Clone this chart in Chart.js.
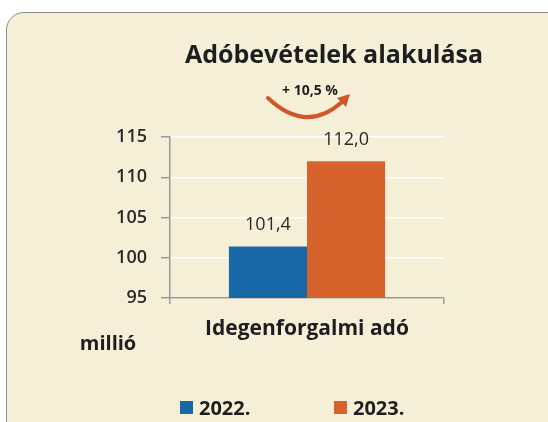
<!DOCTYPE html>
<html>
<head>
<meta charset="utf-8">
<script src="https://cdn.jsdelivr.net/npm/chart.js@4.4.0/dist/chart.umd.min.js"></script>
<style>
    body { margin: 0; background: #ffffff; width: 548px; height: 422px; overflow: hidden; position: relative; }
    #panel {
        position: absolute; left: 6px; top: 12px; width: 600px; height: 460px;
        background: #f6efd8; border: 1.5px solid #8c8c8c; border-radius: 18px;
    }
    #chartBox { position: absolute; left: 0; top: 0; width: 548px; height: 422px; }
</style>
</head>
<body>
<div id="panel"></div>
<div id="chartBox"><canvas id="taxChart" width="548" height="422"></canvas></div>
<script>
// Chart data
const categories = ['Idegenforgalmi adó'];
const years = ['2022.', '2023.'];
const values2022 = [101.4];
const values2023 = [112.0];
const yMin = 95;
const yMax = 115;
const yStep = 5;
const chartTitle = 'Adóbevételek alakulása';
const changeLabel = '+ 10,5 %';
const unitLabel = 'millió';

const colors = ['#1867a9', '#d6622c'];
const FONT = "'Open Sans', sans-serif";

function fmt(v) {
    return v.toFixed(1).replace('.', ',');
}

// Title, growth arrow, unit, value labels and legend
const extrasPlugin = {
    id: 'extras',
    afterDatasetsDraw(chart) {
        const ctx = chart.ctx;
        ctx.save();
        ctx.fillStyle = '#1e1e1e';
        ctx.textAlign = 'center';
        ctx.textBaseline = 'alphabetic';

        ctx.font = `bold 25px ${FONT}`;
        ctx.fillText(chartTitle, 334, 63);

        ctx.font = `bold 14px ${FONT}`;
        ctx.fillText(changeLabel, 310, 95);

        // curved arrow
        ctx.strokeStyle = '#cf572a';
        ctx.fillStyle = '#cf572a';
        ctx.lineWidth = 4;
        ctx.lineCap = 'round';
        ctx.beginPath();
        ctx.moveTo(268, 98);
        ctx.quadraticCurveTo(306, 134, 342, 102);
        ctx.stroke();
        ctx.beginPath();
        ctx.moveTo(350, 94);
        ctx.lineTo(337, 98);
        ctx.lineTo(346, 107);
        ctx.closePath();
        ctx.fill();

        ctx.fillStyle = '#1e1e1e';
        ctx.font = `bold 20px ${FONT}`;
        ctx.fillText(unitLabel, 108, 350);

        // value labels above bars
        ctx.fillStyle = '#2a2a2a';
        ctx.font = `500 18px ${FONT}`;
        chart.data.datasets.forEach((ds, i) => {
            const meta = chart.getDatasetMeta(i);
            meta.data.forEach((bar, j) => {
                ctx.fillText(fmt(ds.data[j]), bar.x, bar.y - 16);
            });
        });

        // legend
        const legendX = [180, 334];
        ctx.textAlign = 'left';
        ctx.font = `bold 20px ${FONT}`;
        years.forEach((y, i) => {
            ctx.fillStyle = colors[i];
            ctx.fillRect(legendX[i], 401, 13, 13);
            ctx.fillStyle = '#1e1e1e';
            ctx.fillText(y, legendX[i] + 19, 415);
        });
        ctx.restore();
    }
};

const ctx = document.getElementById('taxChart').getContext('2d');
const chart = new Chart(ctx, {
    type: 'bar',
    data: {
        labels: categories,
        datasets: [
            { label: years[0], data: values2022, backgroundColor: colors[0] },
            { label: years[1], data: values2023, backgroundColor: colors[1] }
        ]
    },
    options: {
        responsive: false,
        animation: false,
        layout: { padding: { top: 137, right: 104, bottom: 0, left: 0 } },
        datasets: {
            bar: { categoryPercentage: 0.57, barPercentage: 1 }
        },
        scales: {
            x: {
                afterFit: (scale) => { scale.height = 124; },
                grid: { display: true, drawOnChartArea: false, tickLength: 6, tickColor: '#9a9a9a', lineWidth: 1.5 },
                border: { color: '#9a9a9a', width: 1.5 },
                ticks: { color: '#1e1e1e', font: { family: "'Open Sans'", size: 21, weight: 'bold' }, padding: 12 }
            },
            y: {
                min: yMin,
                max: yMax,
                afterFit: (scale) => { scale.width = 170; },
                grid: { color: '#ffffff', lineWidth: 1.5, tickLength: 9, tickColor: '#9a9a9a' },
                border: { color: '#9a9a9a', width: 1.5 },
                ticks: { stepSize: yStep, color: '#2a2a2a', font: { family: "'Open Sans'", size: 18, weight: 600 }, padding: 14 }
            }
        },
        plugins: {
            legend: { display: false },
            title: { display: false },
            tooltip: { enabled: false }
        }
    },
    plugins: [extrasPlugin]
});
</script>
</body>
</html>
